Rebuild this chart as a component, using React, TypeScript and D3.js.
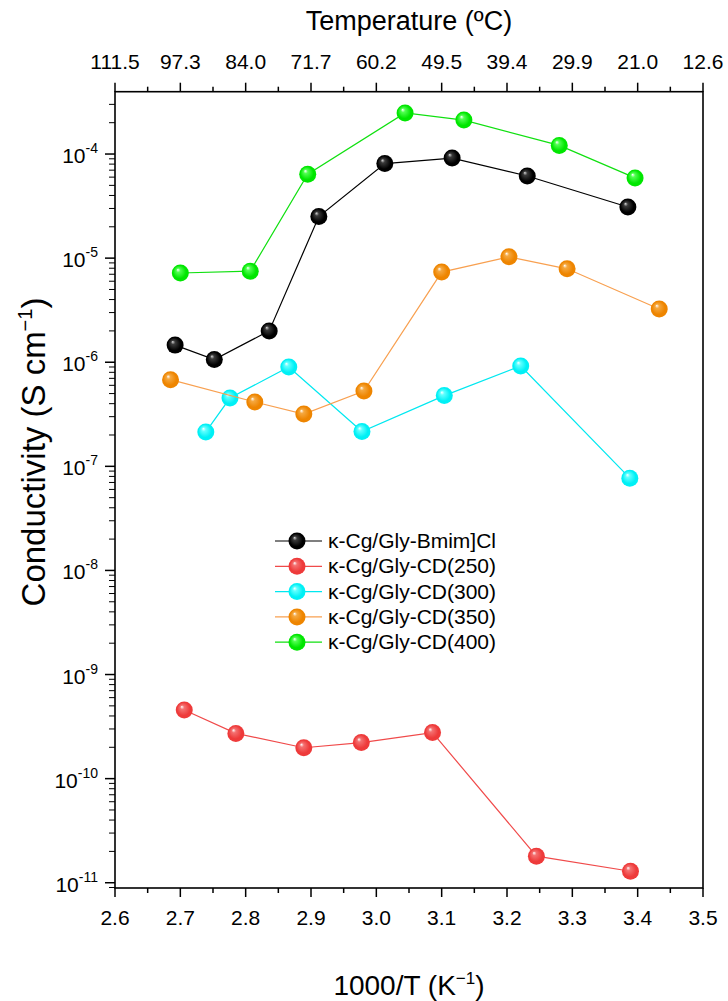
import React from 'react';
import * as d3 from 'd3';

// ---- Data ----
const bmimX = [2.692, 2.752, 2.836, 2.912, 3.013, 3.116, 3.231, 3.385];
const bmimY = [1.46e-6, 1.06e-6, 2.0e-6, 2.51e-5, 8.1e-5, 9.15e-5, 6.15e-5, 3.1e-5];
const cd250X = [2.706, 2.785, 2.889, 2.977, 3.086, 3.245, 3.389];
const cd250Y = [4.56e-10, 2.72e-10, 1.98e-10, 2.22e-10, 2.77e-10, 1.8e-11, 1.29e-11];
const cd300X = [2.739, 2.776, 2.866, 2.978, 3.104, 3.221, 3.388];
const cd300Y = [2.14e-7, 4.53e-7, 9.0e-7, 2.16e-7, 4.78e-7, 9.2e-7, 7.7e-8];
const cd350X = [2.685, 2.814, 2.889, 2.981, 3.1, 3.203, 3.292, 3.433];
const cd350Y = [6.8e-7, 4.15e-7, 3.18e-7, 5.28e-7, 7.35e-6, 1.03e-5, 7.9e-6, 3.25e-6];
const cd400X = [2.7, 2.807, 2.895, 3.044, 3.134, 3.28, 3.396];
const cd400Y = [7.2e-6, 7.5e-6, 6.4e-5, 2.48e-4, 2.12e-4, 1.21e-4, 5.9e-5];

const seriesNames = [
  'κ-Cg/Gly-Bmim]Cl',
  'κ-Cg/Gly-CD(250)',
  'κ-Cg/Gly-CD(300)',
  'κ-Cg/Gly-CD(350)',
  'κ-Cg/Gly-CD(400)',
];

const bottomTicks = [2.6, 2.7, 2.8, 2.9, 3.0, 3.1, 3.2, 3.3, 3.4, 3.5];
const bottomTickLabels = ['2.6', '2.7', '2.8', '2.9', '3.0', '3.1', '3.2', '3.3', '3.4', '3.5'];
const topTickLabels = ['111.5', '97.3', '84.0', '71.7', '60.2', '49.5', '39.4', '29.9', '21.0', '12.6'];
const yExponents = [-11, -10, -9, -8, -7, -6, -5, -4];

const xDomain = [2.6, 3.5];
const yDomain = [8.9e-12, 3.97e-4];

const FONT = 'Liberation Sans, Arial, Helvetica, sans-serif';

const styles = [
  { base: '#000000', hi: '#d8d8d8', mid: '#3a3a3a', line: '#000000' },
  { base: '#ee3a3a', hi: '#ffffff', mid: '#f47070', line: '#f04a4a' },
  { base: '#00f0f5', hi: '#ffffff', mid: '#60ffff', line: '#00e8f0' },
  { base: '#ee8500', hi: '#ffffff', mid: '#f5a840', line: '#f8a050' },
  { base: '#00e600', hi: '#ffffff', mid: '#50ff50', line: '#10e010' },
];

export default function App() {
  const left = 115, right = 703, top = 91.7, bottom = 888;
  const x = d3.scaleLinear().domain(xDomain).range([left, right]);
  const y = d3.scaleLog().domain(yDomain).range([bottom, top]);

  const data = [
    [bmimX, bmimY],
    [cd250X, cd250Y],
    [cd300X, cd300Y],
    [cd350X, cd350Y],
    [cd400X, cd400Y],
  ].map(([xs, ys]) => xs.map((v, i) => [v, ys[i]] as [number, number]));

  const line = d3
    .line<[number, number]>()
    .x((d) => x(d[0]))
    .y((d) => y(d[1]));

  const minorX = d3.range(2.65, 3.5, 0.1);
  const minorY: number[] = [];
  for (let e = -12; e <= -4; e++) {
    for (let m = 2; m <= 9; m++) {
      const v = m * Math.pow(10, e);
      if (v >= yDomain[0] && v <= yDomain[1]) minorY.push(v);
    }
  }
  const R = 8.5;

  const legX = 275, legY0 = 541, legDy = 25.3;

  const sphere = (cx: number, cy: number, si: number, key: string) => (
    <circle key={key} cx={cx} cy={cy} r={R} fill={`url(#grad${si})`} />
  );

  return (
    <svg
      width={728}
      height={1001}
      style={{ position: 'absolute', left: 0, top: 0, background: '#fff' }}
      fontFamily={FONT}
    >
      <defs>
        {styles.map((s, i) => (
          <radialGradient key={i} id={`grad${i}`} cx="50%" cy="50%" r="55%" fx="35%" fy="30%">
            <stop offset="0%" stopColor={s.hi} />
            <stop offset="22%" stopColor={s.mid} />
            <stop offset="70%" stopColor={s.base} />
            <stop offset="100%" stopColor={s.base} />
          </radialGradient>
        ))}
      </defs>
      <rect x={0} y={0} width={728} height={1001} fill="#fff" />

      {/* Titles */}
      <text x={(left + right) / 2} y={30} textAnchor="middle" fontSize={27}>
        Temperature (ºC)
      </text>
      <text x={(left + right) / 2} y={995} textAnchor="middle" fontSize={28}>
        1000/T (K
        <tspan dy={-11} fontSize={17}>−1</tspan>
        <tspan dy={11}>)</tspan>
      </text>
      <text
        transform={`translate(45, 452) rotate(-90)`}
        textAnchor="middle"
        fontSize={33}
      >
        Conductivity (S cm
        <tspan dy={-13} fontSize={20}>−1</tspan>
        <tspan dy={13}>)</tspan>
      </text>

      {/* Frame */}
      <rect x={left} y={top} width={right - left} height={bottom - top} fill="none" stroke="#000" strokeWidth={1.6} />

      {/* Bottom and top axes */}
      {bottomTicks.map((t, i) => (
        <g key={`bt${i}`}>
          <line x1={x(t)} x2={x(t)} y1={bottom} y2={bottom + 9} stroke="#000" strokeWidth={1.5} />
          <text x={x(t)} y={925} textAnchor="middle" fontSize={21}>
            {bottomTickLabels[i]}
          </text>
          <line x1={x(t)} x2={x(t)} y1={top} y2={top - 9} stroke="#000" strokeWidth={1.5} />
          <text x={x(t)} y={69} textAnchor="middle" fontSize={21}>
            {topTickLabels[i]}
          </text>
        </g>
      ))}
      {minorX.map((t, i) => (
        <g key={`mx${i}`}>
          <line x1={x(t)} x2={x(t)} y1={bottom} y2={bottom + 5} stroke="#000" strokeWidth={1.5} />
          <line x1={x(t)} x2={x(t)} y1={top} y2={top - 5} stroke="#000" strokeWidth={1.5} />
        </g>
      ))}

      {/* Left axis */}
      {yExponents.map((e) => {
        const yy = y(Math.pow(10, e));
        return (
          <g key={`ye${e}`}>
            <line x1={left} x2={left - 10} y1={yy} y2={yy} stroke="#000" strokeWidth={1.5} />
            <text x={98} y={yy + 9} textAnchor="end" fontSize={21}>
              10
              <tspan dy={-10} fontSize={14}>{String(e)}</tspan>
            </text>
          </g>
        );
      })}
      {minorY.map((v, i) => (
        <line key={`my${i}`} x1={left} x2={left - 6} y1={y(v)} y2={y(v)} stroke="#000" strokeWidth={1} />
      ))}

      {/* Series */}
      {data.map((pts, si) => (
        <g key={`s${si}`}>
          <path d={line(pts) || ''} fill="none" stroke={styles[si].line} strokeWidth={1.2} />
          {pts.map((p, j) => sphere(x(p[0]), y(p[1]), si, `p${si}-${j}`))}
        </g>
      ))}

      {/* Legend */}
      {seriesNames.map((name, i) => {
        const ly = legY0 + i * legDy;
        return (
          <g key={`leg${i}`}>
            <line x1={legX} x2={legX + 47} y1={ly} y2={ly} stroke={styles[i].line} strokeWidth={1.2} />
            {sphere(legX + 22, ly, i, `lm${i}`)}
            <text x={legX + 53} y={ly + 7} fontSize={21}>
              {name}
            </text>
          </g>
        );
      })}
    </svg>
  );
}
